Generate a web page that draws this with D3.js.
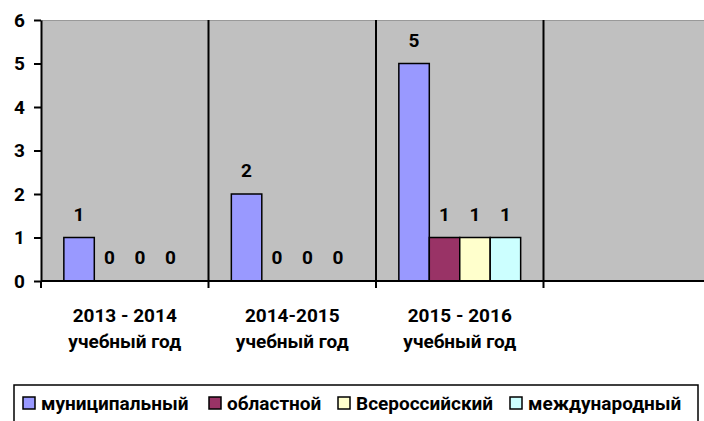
<!DOCTYPE html>
<html>
<head>
<meta charset="utf-8">
<script src="https://cdn.jsdelivr.net/npm/d3@7"></script>
<style>
	body { margin: 0; background: #fff; }
	svg { display: block; font-family: Roboto, "Open Sans", sans-serif; font-weight: bold; }
</style>
</head>
<body>
<svg></svg>
<script>
const svgWidth = 704;
const svgHeight = 421;

// data
const categories = ["2013 - 2014|учебный год", "2014-2015|учебный год", "2015 - 2016|учебный год", ""];
const seriesNames = ["муниципальный", "областной", "Всероссийский", "международный"];
const municipal = [1, 2, 5, null];
const regional = [0, 0, 1, null];
const national = [0, 0, 1, null];
const international = [0, 0, 1, null];
const seriesColors = ["#9999FF", "#993366", "#FFFFCC", "#CCFFFF"];
const yTicks = [0, 1, 2, 3, 4, 5, 6];

const seriesValues = [municipal, regional, national, international];

const plot = { left: 41, top: 20, bottom: 281, catWidth: 167.5 };
const fontSize = "19px";

const svg = d3.select("svg")
	.attr("width", svgWidth)
	.attr("height", svgHeight);

let xScale = d3.scaleBand()
	.domain(categories)
	.range([plot.left, plot.left + plot.catWidth * categories.length])
	.padding(0);

let innerScale = d3.scaleBand()
	.domain(seriesNames)
	.range([0, xScale.bandwidth()])
	.paddingInner(0)
	.paddingOuter(0.75);

let yScale = d3.scaleLinear()
	.domain([0, 6])
	.range([plot.bottom, plot.top]);

// plot area
svg.append("rect")
	.attr("x", plot.left)
	.attr("y", plot.top)
	.attr("width", svgWidth - plot.left)
	.attr("height", plot.bottom - plot.top)
	.attr("fill", "#C0C0C0");

svg.append("line")
	.attr("x1", plot.left).attr("x2", svgWidth)
	.attr("y1", plot.top + 0.5).attr("y2", plot.top + 0.5)
	.attr("stroke", "#999")
	.attr("stroke-width", 1);

// category separators
svg.append("g")
	.selectAll("line")
	.data(categories.slice(1))
	.enter()
	.append("line")
	.attr("x1", d => xScale(d))
	.attr("x2", d => xScale(d))
	.attr("y1", plot.top)
	.attr("y2", plot.bottom)
	.attr("stroke", "#000")
	.attr("stroke-width", 2);

// bars
let rows = [];
categories.forEach((c, i) => {
	seriesNames.forEach((s, j) => {
		if (seriesValues[j][i] !== null) {
			rows.push({ cat: c, series: s, value: seriesValues[j][i], color: seriesColors[j] });
		}
	});
});

svg.append("g")
	.selectAll("rect")
	.data(rows.filter(d => d.value > 0))
	.enter()
	.append("rect")
	.attr("x", d => xScale(d.cat) + innerScale(d.series))
	.attr("y", d => yScale(d.value))
	.attr("width", innerScale.bandwidth())
	.attr("height", d => yScale(0) - yScale(d.value))
	.attr("fill", d => d.color)
	.attr("stroke", "#000")
	.attr("stroke-width", 1.5);

// value labels
svg.append("g")
	.selectAll("text")
	.data(rows)
	.enter()
	.append("text")
	.text(d => d.value)
	.attr("x", d => xScale(d.cat) + innerScale(d.series) + innerScale.bandwidth() / 2)
	.attr("y", d => yScale(d.value) - 17)
	.attr("text-anchor", "middle")
	.attr("font-size", fontSize)
	.attr("fill", "#000");

// y axis
let yAxis = d3.axisLeft(yScale)
	.tickValues(yTicks)
	.tickFormat(d3.format("d"))
	.tickSize(7)
	.tickPadding(9)
	.tickSizeOuter(0);

let yG = svg.append("g")
	.attr("transform", `translate(${plot.left}, 0)`)
	.call(yAxis);
yG.select(".domain").attr("stroke-width", 2);
yG.selectAll(".tick line").attr("stroke-width", 2);
yG.selectAll(".tick text")
	.attr("font-size", fontSize)
	.attr("font-family", "Roboto, sans-serif")
	.attr("font-weight", "bold")
	.attr("fill", "#000");

// x axis
let xAxis = d3.axisBottom(xScale)
	.tickValues([])
	.tickSizeOuter(0);

let xG = svg.append("g")
	.attr("transform", `translate(0, ${plot.bottom})`)
	.call(xAxis);
xG.select(".domain")
	.attr("d", `M${plot.left},0H${svgWidth}`)
	.attr("stroke-width", 2);

xG.selectAll(".sep")
	.data(categories)
	.enter()
	.append("line")
	.attr("x1", d => xScale(d))
	.attr("x2", d => xScale(d))
	.attr("y1", 0)
	.attr("y2", 7)
	.attr("stroke", "#000")
	.attr("stroke-width", 2);

let xLabels = svg.append("g")
	.selectAll("text")
	.data(categories.filter(d => d !== ""))
	.enter()
	.append("text")
	.attr("text-anchor", "middle")
	.attr("font-size", fontSize)
	.attr("fill", "#000");

xLabels.append("tspan")
	.attr("x", d => xScale(d) + xScale.bandwidth() / 2)
	.attr("y", 322)
	.text(d => d.split("|")[0]);

xLabels.append("tspan")
	.attr("x", d => xScale(d) + xScale.bandwidth() / 2)
	.attr("y", 348)
	.text(d => d.split("|")[1]);

// legend
svg.append("rect")
	.attr("x", 14)
	.attr("y", 385)
	.attr("width", 684)
	.attr("height", 60)
	.attr("fill", "#fff")
	.attr("stroke", "#000")
	.attr("stroke-width", 1.5);

const legendX = [23, 209, 338, 510];

let legend = svg.append("g")
	.selectAll("g")
	.data(seriesNames)
	.enter()
	.append("g")
	.attr("transform", (d, i) => `translate(${legendX[i]}, 397)`);

legend.append("rect")
	.attr("width", 12)
	.attr("height", 12)
	.attr("fill", (d, i) => seriesColors[i])
	.attr("stroke", "#000")
	.attr("stroke-width", 1.5);

legend.append("text")
	.text(d => d)
	.attr("x", 18)
	.attr("y", 13)
	.attr("font-size", fontSize)
	.attr("fill", "#000");
</script>
</body>
</html>
